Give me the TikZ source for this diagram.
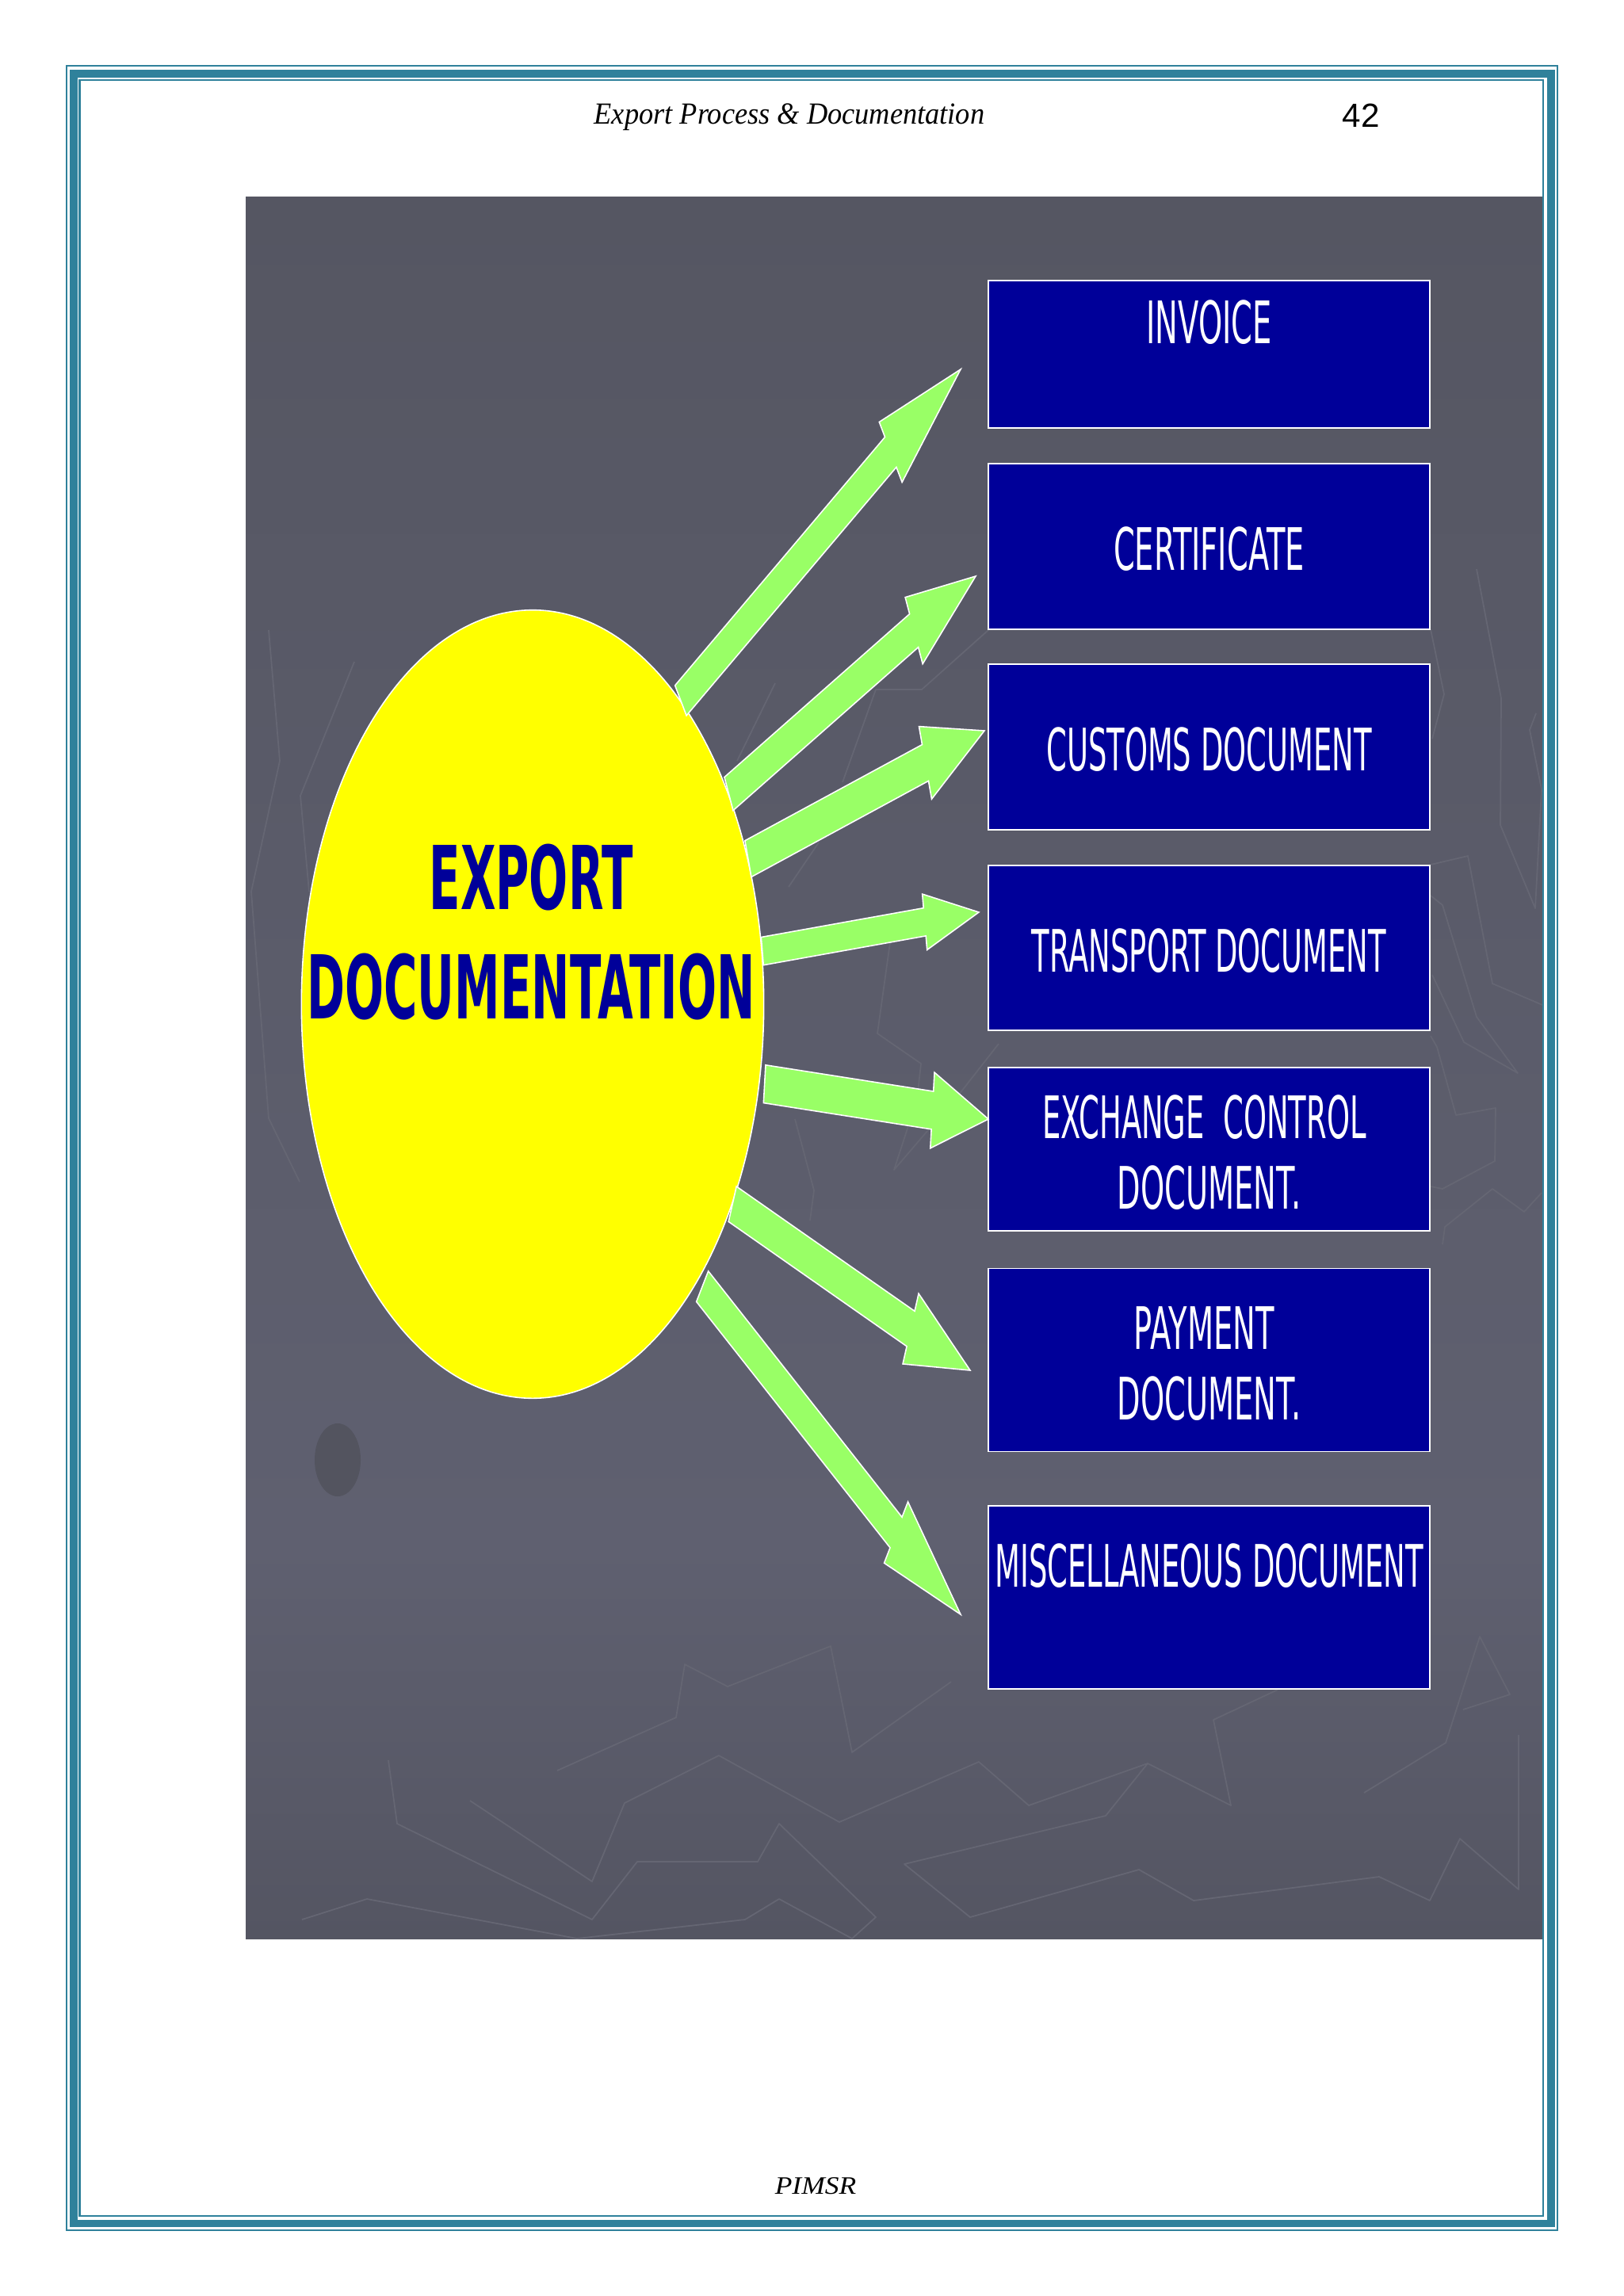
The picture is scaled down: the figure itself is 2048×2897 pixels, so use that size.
\documentclass[tikz,border=0pt]{standalone}
\usepackage{fontspec}
\usetikzlibrary{calc,shapes.geometric}
\newfontfamily\boxfont[FakeStretch=0.52]{DejaVu Sans}
\newfontfamily\longfont[FakeStretch=0.5]{DejaVu Sans}
\newfontfamily\titlefont[FakeStretch=0.52]{DejaVu Sans Bold}
\newfontfamily\headfont[FakeStretch=0.94]{Liberation Serif Italic}
\newfontfamily\footfont[FakeStretch=1.12]{Liberation Serif Italic}
\newfontfamily\pagefont{Liberation Sans}
\definecolor{teal1}{HTML}{2F819B}
\definecolor{navy1}{HTML}{000099}
\definecolor{lime1}{HTML}{99FF66}
\definecolor{yellow1}{HTML}{FFFF00}
\definecolor{panel1}{HTML}{555662}
\definecolor{panel2}{HTML}{5F6070}
\definecolor{panel3}{HTML}{545562}
\definecolor{sketch1}{HTML}{656673}
\definecolor{oval1}{HTML}{53545F}
\tikzset{
  docbox/.style={shape=rectangle,draw=white,fill=navy1,line width=0.5pt,text=white,align=center,
    minimum width=5.57cm,inner sep=0pt,font=\boxfont\fontsize{21}{25.3}\selectfont,
    execute at begin node=\rule{0pt}{0.83em}},
  fatarrow/.style={draw=white,fill=lime1,line width=0.45pt,miter limit=20,to path={
    ($(\tikztostart)!0.75!(\tikztotarget)$) coordinate (neck)
    ($(\tikztostart)+(#1)$) -- ($(neck)+(#1)$) -- ($(neck)+2*(#1)$) -- (\tikztotarget)
    -- ($(neck)-2*(#1)$) -- ($(neck)-(#1)$) -- ($(\tikztostart)-(#1)$) -- cycle}},
  sketch/.style={draw=sketch1,line width=0.5pt,line join=round}
}
\begin{document}
\begin{tikzpicture}[x=0.01cm,y=-0.01cm]
\useasboundingbox (0,0) rectangle (2048,2897);
\fill[white] (0,0) rectangle (2048,2897);

\shade[top color=panel1,bottom color=panel2,shading angle=0] (310,248) rectangle (1946,1950);
\shade[top color=panel2,bottom color=panel3,shading angle=0] (310,1950) rectangle (1946,2446);
\fill[oval1] (426,1842) ellipse [x radius=29,y radius=46];

\draw[sketch] (381,2422)--(463,2396)--(728,2446)--(940,2422)--(983,2396)--(1075,2446)--(1105,2419)--(983,2301)--(956,2349)--(804,2349)--(747,2422)--(501,2301)--(490,2221);
\draw[sketch] (593,2272)--(747,2374)--(788,2275)--(907,2215)--(1059,2299)--(1235,2223)--(1298,2278)--(1448,2225)--(1553,2278)--(1531,2170)--(1612,2132);
\draw[sketch] (1448,2225)--(1395,2291)--(1141,2352)--(1224,2419)--(1437,2359)--(1506,2398)--(1740,2368)--(1804,2398)--(1842,2320)--(1916,2384)--(1916,2189);
\draw[sketch] (703,2234)--(853,2167)--(864,2100)--(918,2128)--(1048,2077)--(1075,2211)--(1200,2122);
\draw[sketch] (1721,2262)--(1824,2199)--(1867,2065)--(1905,2138)--(1846,2157);
\draw[sketch] (1863,718)--(1894,881)--(1893,1041)--(1937,1146)--(1945,996)--(1930,921)--(1938,900);
\draw[sketch] (1805,794)--(1822,876)--(1807,932);
\draw[sketch] (1805,1091)--(1852,1080)--(1883,1241)--(1946,1268);
\draw[sketch] (1805,1130)--(1820,1142)--(1863,1283)--(1915,1354)--(1847,1315)--(1807,1230);
\draw[sketch] (1805,1307)--(1813,1321)--(1837,1407)--(1887,1398)--(1886,1465)--(1820,1500)--(1805,1497);
\draw[sketch] (1820,1570)--(1823,1548)--(1883,1500)--(1923,1529)--(1945,1505);
\draw[sketch] (339,795)--(353,960)--(317,1125)--(339,1411)--(378,1491);
\draw[sketch] (447,835)--(379,1004)--(390,1125);
\draw[sketch] (1247,795)--(1163,870)--(1105,870)--(1063,987);
\draw[sketch] (978,862)--(930,960);
\draw[sketch] (1033,1063)--(995,1119);
\draw[sketch] (1123,1189)--(1107,1304)--(1162,1342)--(1157,1387)--(1128,1476)--(1213,1377)--(1260,1317);
\draw[sketch] (1003,1412)--(1027,1502)--(1022,1540);

\draw[teal1,line width=0.02cm] (83.5,83.3) rectangle (1965,2814);
\draw[teal1,line width=0.098cm] (92.8,92.8) rectangle (1956.8,2805.5);
\draw[teal1,line width=0.024cm] (100.3,101.2) rectangle (1947.2,2796);

\node(header) at (996,148)[font=\headfont\fontsize{11}{13}\selectfont] {Export Process \& Documentation};
\node(pagenum) at (1717,146)[font=\pagefont\fontsize{12}{15}\selectfont] {42};
\node(footer) at (1029,2758)[font=\footfont\fontsize{9}{11}\selectfont] {PIMSR};

\node(export) at (672,1267)[shape=ellipse,draw=white,fill=yellow1,line width=0.45pt,inner sep=0pt,minimum width=5.83cm,minimum height=9.94cm] {};
\node(exporttext) at (670,1176)[text=navy1,align=center,font=\titlefont\fontsize{31.6}{39.5}\selectfont] {EXPORT\\DOCUMENTATION};

\node(invoice) at (1525.5,447)[docbox,minimum height=1.86cm] {INVOICE\\[-2.1pt]\mbox{}};
\node(certificate) at (1525.5,689.5)[docbox,minimum height=2.09cm] {CERTIFICATE};
\node(customs) at (1525.5,942.5)[docbox,minimum height=2.09cm] {\longfont CUSTOMS DOCUMENT};
\node(transport) at (1525.5,1196)[docbox,minimum height=2.08cm] {\longfont TRANSPORT DOCUMENT};
\node(exchange) at (1525.5,1450)[docbox,minimum height=2.06cm] {\longfont EXCHANGE\ \ CONTROL\ \mbox{}\\DOCUMENT.\\[-27.4pt]\mbox{}};
\node(payment) at (1525.5,1716)[docbox,minimum height=2.31cm] {PAYMENT\ \mbox{}\\DOCUMENT.\\[-27.4pt]\mbox{}};
\node(misc) at (1525.5,2015.5)[docbox,minimum height=2.31cm] {\longfont MISCELLANEOUS DOCUMENT\\[-2.1pt]\mbox{}};

\coordinate(tipinvoice) at (1212,466);
\coordinate(tipcertificate) at (1231,727);
\coordinate(tipcustoms) at (1242,922);
\coordinate(tiptransport) at (1235,1151);
\coordinate(tipexchange) at (1247,1412);
\coordinate(tippayment) at (1224,1729);
\coordinate(tipmisc) at (1212,2037);
\coordinate(tailexchange) at ([shift={(6,2)}]export.-19.9);
\coordinate(tailmisc) at ([shift={(5,8)}]export.-59.4);

\path [-]
  (export.64)    edge [fatarrow={7.2,19}]   (tipinvoice)
  (export.47.9)  edge [fatarrow={5.5,21}]   (tipcertificate)
  (export.34.8)  edge [fatarrow={4,22.9}]   (tipcustoms)
  (export.13.5)  edge [fatarrow={1.5,17.6}] (tiptransport)
  (tailexchange) edge [fatarrow={-1.3,23.9}] (tipexchange)
  (export.-45.1) edge [fatarrow={-5,22.2}]  (tippayment)
  (tailmisc)     edge [fatarrow={-7.5,19.3}] (tipmisc);

\end{tikzpicture}
\end{document}
